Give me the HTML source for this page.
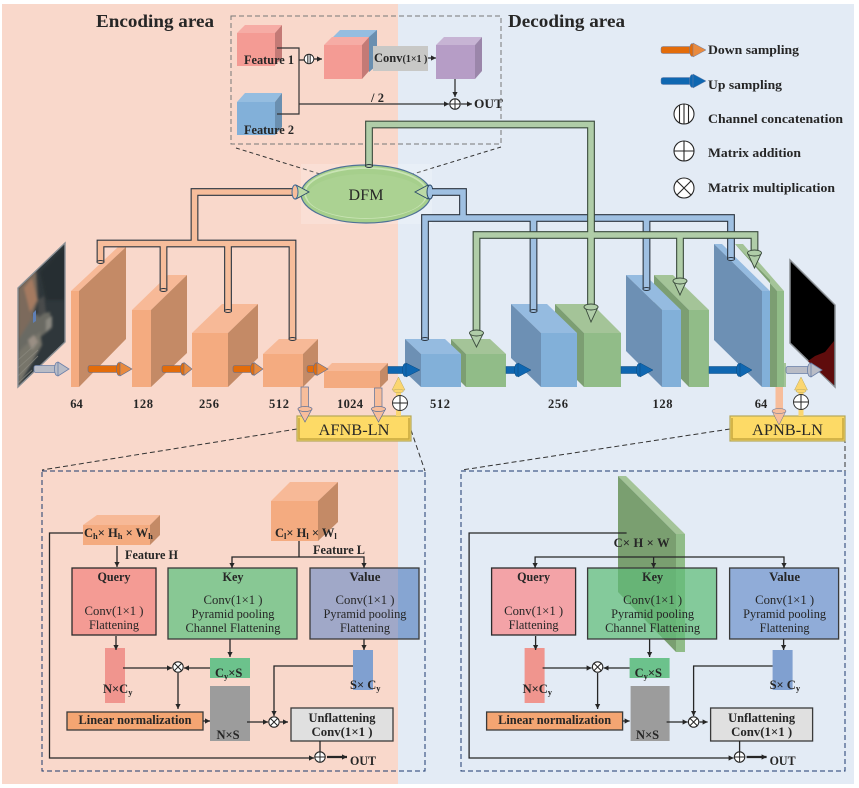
<!DOCTYPE html>
<html><head><meta charset="utf-8"><style>
html,body{margin:0;padding:0;background:#fff}
svg{display:block;filter:blur(.3px)}
text{font-family:"Liberation Serif",serif;fill:#262626}
.b{font-weight:bold;font-size:12.5px}
.r{font-size:13px}
.m{text-anchor:middle}
.sub{font-size:8.5px;font-weight:bold}
</style></head><body>
<svg width="859" height="788" viewBox="0 0 859 788" xmlns="http://www.w3.org/2000/svg">
<defs>
<marker id="a" markerUnits="userSpaceOnUse" markerWidth="6" markerHeight="6" refX="5" refY="3" orient="auto"><path d="M0,0.4L5,3L0,5.6Z" fill="#262626"/></marker>
<g id="plus"><circle r="5.2" fill="#fff" stroke="#262626" stroke-width="1.1"/><path d="M-5,0H5M0,-5V5" stroke="#262626" stroke-width="1"/></g>
<g id="cross"><circle r="5.2" fill="#fff" stroke="#262626" stroke-width="1.1"/><path d="M-3.6,-3.6L3.6,3.6M3.6,-3.6L-3.6,3.6" stroke="#262626" stroke-width="1"/></g>
<clipPath id="sat"><polygon points="18,288 65,243 65,342 18,387"/></clipPath>
<filter id="soft" x="-10%" y="-10%" width="120%" height="120%"><feGaussianBlur stdDeviation="1.2"/></filter>
</defs>

<rect x="2" y="4" width="396" height="780" fill="#f9d8cb"/>
<rect x="398" y="4" width="456" height="780" fill="#e3ebf5"/>

<text x="96" y="27" font-size="18" font-weight="bold" textLength="118" lengthAdjust="spacingAndGlyphs">Encoding area</text>
<text x="508" y="27" font-size="18" font-weight="bold" textLength="117" lengthAdjust="spacingAndGlyphs">Decoding area</text>

<!-- top dashed -->
<rect x="231" y="16" width="270" height="128" fill="none" stroke="#777" stroke-width="1" stroke-dasharray="5 3"/>
<path d="M236,148L320,174M501,147L413,174" fill="none" stroke="#333" stroke-width="1" stroke-dasharray="4 3"/>

<!-- Feature cubes -->
<polygon points="237,33 245,25 282,25 275,33" fill="#f6aca5"/><polygon points="275,33 282,25 282,58 275,65" fill="#c47a76"/><rect x="237" y="33" width="38" height="33" fill="#f49b94"/>
<polygon points="237,102 245,93 282,93 275,102" fill="#95bde0"/><polygon points="275,102 282,93 282,127 275,135" fill="#6a8fb0"/><rect x="237" y="102" width="38" height="33" fill="#82b0d9"/>
<polygon points="333,37 340,30 377,30 377,65 369,72 369,37" fill="#95bde0"/><polygon points="369,37 377,30 377,65 369,72" fill="#6a8fb0"/>
<polygon points="324,45 332,37 369,37 362,45" fill="#f6aca5"/><polygon points="362,45 369,37 369,71 362,79" fill="#c47a76"/><rect x="324" y="45" width="38" height="34" fill="#f49b94"/>
<polygon points="436,45 444,37 482,37 475,45" fill="#c7b4d4"/><polygon points="475,45 482,37 482,71 475,79" fill="#9b86aa"/><rect x="436" y="45" width="39" height="34" fill="#b69dc6"/>
<rect x="373" y="46" width="55" height="25" fill="#c8c8c6"/>
<text class="b" x="244" y="64" textLength="50" lengthAdjust="spacingAndGlyphs">Feature 1</text>
<text class="b" x="244" y="134" textLength="50" lengthAdjust="spacingAndGlyphs">Feature 2</text>
<text class="b" x="374" y="62">Conv<tspan font-size="10">(1×1 )</tspan></text>
<text class="b" x="371" y="102" textLength="13">/ 2</text>
<text class="b" x="474" y="108" font-size="13" textLength="29" lengthAdjust="spacingAndGlyphs">OUT</text>
<path d="M277,48H299V114H277" fill="none" stroke="#333" stroke-width="1.2"/>
<path d="M299,60H304M314,59H322" fill="none" stroke="#262626" stroke-width="1.2" marker-end="url(#a)"/>
<path d="M299,104H449" fill="none" stroke="#333" stroke-width="1.2" marker-end="url(#a)"/>
<path d="M428,58H436" stroke="#262626" stroke-width="1.2" marker-end="url(#a)"/>
<path d="M455,79V97" stroke="#262626" stroke-width="1.2" marker-end="url(#a)"/>
<path d="M461,104H472" stroke="#262626" stroke-width="1.2" marker-end="url(#a)"/>
<g transform="translate(309,59)"><circle r="4.8" fill="#fff" stroke="#262626" stroke-width="1"/><path d="M-1.6,-4.4V4.4M0,-4.8V4.8M1.6,-4.4V4.4" stroke="#262626" stroke-width=".7"/></g>
<use href="#plus" x="455" y="104"/>

<!-- Encoder blocks -->
<g>
<polygon points="71,291 118,247 126,247 79,291" fill="#f7b997"/><polygon points="79,291 126,247 126,339 79,387" fill="#c48a66"/><rect x="71" y="291" width="8" height="96" fill="#f4ab80"/>
<polygon points="132,310 168,275 187,275 151,310" fill="#f7b997"/><polygon points="151,310 187,275 187,353 151,387" fill="#c48a66"/><rect x="132" y="310" width="19" height="77" fill="#f4ab80"/>
<polygon points="192,333 222,304 258,304 228,333" fill="#f7b997"/><polygon points="228,333 258,304 258,358 228,387" fill="#c48a66"/><rect x="192" y="333" width="36" height="54" fill="#f4ab80"/>
<polygon points="263,354 279,339 318,339 303,354" fill="#f7b997"/><polygon points="303,354 318,339 318,372 303,387" fill="#c48a66"/><rect x="263" y="354" width="40" height="33" fill="#f4ab80"/>
<polygon points="324,371 332,363 388,363 380,371" fill="#f7b997"/><polygon points="380,371 388,363 388,380 380,388" fill="#c48a66"/><rect x="324" y="371" width="56" height="17" fill="#f4ab80"/>
</g>

<!-- input image -->
<g clip-path="url(#sat)">
<rect x="16" y="240" width="50" height="150" fill="#2f373b"/>
<g filter="url(#soft)">
<polygon points="18,288 36,270 38,300 30,325 18,340" fill="#7c6a5c"/>
<polygon points="24,288 32,278 37,300 30,312" fill="#a57a60"/>
<polygon points="18,340 34,315 50,312 52,328 30,345 18,370" fill="#6a6a64"/>
<polygon points="18,352 40,332 42,345 18,387" fill="#77756a"/>
<polygon points="38,300 44,296 46,312 38,318" fill="#4a4c4c"/>
<polygon points="28,340 34,335 38,342 32,350" fill="#9a8f84"/>
<polygon points="46,320 52,316 52,326 46,332" fill="#8a8880"/>
<polygon points="40,272 65,245 65,300 46,300" fill="#252e30"/>
</g>
<path d="M18,360L36,344M18,368L38,350M18,376L38,356M18,383L32,370" stroke="#8c8a80" stroke-width="1" opacity=".7"/>
<polygon points="33,313 36,310 36,321 33,323" fill="#5f7fb5"/>
</g>
<polygon points="18,288 65,243 65,342 18,387" fill="none" stroke="#8a8f94" stroke-width="1.4"/>

<!-- output image -->
<polygon points="790,260 835,305 835,387 790,343" fill="#000" stroke="#8a8f94" stroke-width="1.5"/>
<polygon points="808,361 815,356 825,352 834,341 834,385" fill="#5f0c0c"/>

<!-- Decoder blocks: green first, blue on top -->
<polygon points="451,339 490,339 506,354 466,354" fill="#a4c498"/><polygon points="451,339 466,354 466,387 451,372" fill="#7c9e72"/><rect x="466" y="354" width="40" height="33" fill="#91bc88"/>
<polygon points="405,339 445,339 461,354 421,354" fill="#95bbe0"/><polygon points="405,339 421,354 421,387 405,372" fill="#6d90b4"/><rect x="421" y="354" width="40" height="33" fill="#82b0d9"/>
<polygon points="555,304 592,304 621,333 584,333" fill="#a4c498"/><polygon points="555,304 584,333 584,387 555,358" fill="#7c9e72"/><rect x="584" y="333" width="37" height="54" fill="#91bc88"/>
<polygon points="511,304 547,304 577,333 541,333" fill="#95bbe0"/><polygon points="511,304 541,333 541,387 511,358" fill="#6d90b4"/><rect x="541" y="333" width="36" height="54" fill="#82b0d9"/>
<polygon points="654,275 673,275 709,310 689,310" fill="#a4c498"/><polygon points="654,275 689,310 689,387 654,351" fill="#7c9e72"/><rect x="689" y="310" width="20" height="77" fill="#91bc88"/>
<polygon points="626,275 645,275 681,310 662,310" fill="#95bbe0"/><polygon points="626,275 662,310 662,387 626,351" fill="#6d90b4"/><rect x="662" y="310" width="19" height="77" fill="#82b0d9"/>
<polygon points="735,244 743,244 784,291 777,291" fill="#a4c498"/><polygon points="735,244 777,291 777,387 770,387 770,280" fill="#7c9e72"/><rect x="777" y="291" width="7" height="96" fill="#91bc88"/>
<polygon points="714,244 722,244 770,291 762,291" fill="#95bbe0"/><polygon points="714,244 762,291 762,387 714,340" fill="#6d90b4"/><rect x="762" y="291" width="8" height="96" fill="#82b0d9"/>
<rect x="784" y="363" width="2" height="24" fill="#a4c498"/>

<!-- Labels -->
<g>
<text class="b m" x="76.5" y="408" font-size="13">64</text>
<text class="b m" x="143" y="408" font-size="13" textLength="20">128</text>
<text class="b m" x="209" y="408" font-size="13" textLength="20">256</text>
<text class="b m" x="279" y="408" font-size="13" textLength="20">512</text>
<text class="b m" x="350" y="408" font-size="13" textLength="26">1024</text>
<text class="b m" x="440" y="408" font-size="13" textLength="20">512</text>
<text class="b m" x="558" y="408" font-size="13" textLength="20">256</text>
<text class="b m" x="662.5" y="408" font-size="13" textLength="20">128</text>
<text class="b m" x="761" y="408" font-size="13">64</text>
</g>

<!-- Block arrows horizontal -->
<g stroke="#5a6f98" stroke-width=".6" fill="#e36c0a">
<rect x="88" y="365.5" width="32" height="7" rx="2"/><ellipse cx="119" cy="369" rx="2.5" ry="6.5"/><polygon points="120,362 132,369 120,376" fill="#e98a3e"/>
<rect x="162" y="365.5" width="22" height="7" rx="2"/><ellipse cx="183" cy="369" rx="2.5" ry="6"/><polygon points="184,362.5 192,369 184,375.5" fill="#e98a3e"/>
<rect x="233" y="365.5" width="21" height="7" rx="2"/><ellipse cx="253" cy="369" rx="2.5" ry="6"/><polygon points="254,362.5 263,369 254,375.5" fill="#e98a3e"/>
<rect x="307" y="365.5" width="10" height="7" rx="2"/><ellipse cx="316" cy="369" rx="2.5" ry="6"/><polygon points="317,362.5 328,369 317,375.5" fill="#e98a3e"/>
</g>
<g fill="#0f67b1" stroke="#0a4a80" stroke-width=".5">
<rect x="388" y="366.5" width="17" height="7"/><ellipse cx="405" cy="370" rx="2.5" ry="6.5"/><polygon points="406,363 420,370 406,377"/>
<rect x="506" y="366.5" width="12" height="7"/><ellipse cx="517" cy="370" rx="2.5" ry="6.5"/><polygon points="518,363 531,370 518,377"/>
<rect x="621" y="366.5" width="18" height="7"/><ellipse cx="639" cy="370" rx="2.5" ry="6.5"/><polygon points="640,363 653,370 640,377"/>
<rect x="709" y="366.5" width="30" height="7"/><ellipse cx="739" cy="370" rx="2.5" ry="6.5"/><polygon points="740,363 752,370 740,377"/>
</g>
<g fill="#b9bcc6" stroke="#6a7fa8" stroke-width=".8">
<rect x="34" y="365.5" width="24" height="7" rx="2"/><ellipse cx="57" cy="369" rx="2.5" ry="6.5"/><polygon points="58,362 69,369 58,376"/>
<rect x="786" y="366.5" width="25" height="7" rx="2"/><ellipse cx="810" cy="370" rx="2.5" ry="6.5"/><polygon points="811,363 822,370 811,377"/>
</g>

<!-- Pipes orange -->
<path d="M296,192H194.5V243.5M100.5,262V243.5H292.5V339M163.5,243.5V290M228,243.5V311" fill="none" stroke="#2b3540" stroke-width="7.8"/>
<path d="M296,192H194.5V243.5M100.5,262V243.5H292.5V339M163.5,243.5V290M228,243.5V311" fill="none" stroke="#f7bd9b" stroke-width="5.6"/>
<g fill="#f7bd9b" stroke="#2b3540" stroke-width=".9"><ellipse cx="100.5" cy="262" rx="3.6" ry="1.5"/><ellipse cx="163.5" cy="290" rx="3.6" ry="1.5"/><ellipse cx="228" cy="311" rx="3.6" ry="1.5"/><ellipse cx="292.5" cy="339" rx="3.6" ry="1.5"/></g>

<!-- DFM -->
<rect x="301" y="164" width="131" height="60" fill="#fff" opacity=".2"/>
<ellipse cx="366" cy="194" rx="65" ry="29" fill="#a6cf8c" stroke="#4f7296" stroke-width="1.2"/>
<ellipse cx="366" cy="193" rx="61" ry="25" fill="none" stroke="#c9e4b4" stroke-width="1.8"/>
<ellipse cx="366" cy="196" rx="59" ry="22" fill="#abd292"/>
<text x="366" y="200" font-size="16" text-anchor="middle" textLength="35">DFM</text>
<polygon points="296,185 309,192 296,199" fill="#bcd9a6" stroke="#2b4a6a" stroke-width=".9"/>
<ellipse cx="295" cy="192" rx="3" ry="7" fill="#f7bd9b" stroke="#3c6a9a" stroke-width="1"/>
<polygon points="428,185 415,192 428,199" fill="#bcd9a6" stroke="#2b4a6a" stroke-width=".9"/>
<ellipse cx="430" cy="192" rx="3" ry="7" fill="#9fc0e2" stroke="#2b4a6a" stroke-width="1"/>

<!-- Pipes blue -->
<path d="M432,192H463V218M425,339V218H731V259M533.5,218V311M646.5,218V289" fill="none" stroke="#2b3540" stroke-width="7.8"/>
<path d="M432,192H463V218M425,339V218H731V259M533.5,218V311M646.5,218V289" fill="none" stroke="#9fc0e2" stroke-width="5.6"/>
<g fill="#9fc0e2" stroke="#2b3540" stroke-width=".9"><ellipse cx="425" cy="339" rx="3.6" ry="1.5"/><ellipse cx="533.5" cy="311" rx="3.6" ry="1.5"/><ellipse cx="646.5" cy="289" rx="3.6" ry="1.5"/><ellipse cx="731" cy="259" rx="3.6" ry="1.5"/></g>

<!-- Pipes green -->
<path d="M369,166V124.5H591V306M476.5,334V235H754.5V253M680,235V280" fill="none" stroke="#3a4a3c" stroke-width="7.8"/>
<path d="M369,166V124.5H591V306M476.5,334V235H754.5V253M680,235V280" fill="none" stroke="#b0cda8" stroke-width="5.6"/>
<ellipse cx="369" cy="166" rx="3.5" ry="1.5" fill="#b0cda8" stroke="#2b3540" stroke-width=".9"/>
<g fill="#b0cda8" stroke="#3a4a3c" stroke-width=".9">
<polygon points="470,334 483,334 476.5,347"/><ellipse cx="476.5" cy="333" rx="7" ry="3"/>
<polygon points="585,307 598,307 591,322"/><ellipse cx="591" cy="307" rx="7" ry="3"/>
<polygon points="673.500,281 686.500,281 680,295"/><ellipse cx="680" cy="281" rx="7" ry="3"/>
<polygon points="748,254 761,254 754.500,268"/><ellipse cx="754.500" cy="253" rx="7" ry="3"/>
</g>

<!-- AFNB / APNB -->
<path d="M297,429L42,470M411,430L425,471M730,429L462,470M845,430V471" fill="none" stroke="#333" stroke-width="1" stroke-dasharray="5 3"/>
<rect x="297" y="416" width="114" height="25" fill="#fdda66" stroke="#b5a85a" stroke-width="1.2"/>
<path d="M299,418V439H409V418" fill="none" stroke="#c7a83e" stroke-width="1.5"/>
<rect x="730" y="416" width="115" height="25" fill="#fdda66" stroke="#b5a85a" stroke-width="1.2"/>
<path d="M732,418V439H843V418" fill="none" stroke="#c7a83e" stroke-width="1.5"/>
<rect x="396" y="388" width="5" height="28" fill="#fbd670"/>
<polygon points="392,390 398.500,377 405,390" fill="#fbd670" stroke="#b8a860" stroke-width=".5"/><ellipse cx="398.500" cy="391" rx="5" ry="1.800" fill="#fbd670" stroke="#b8a860" stroke-width=".5"/>
<rect x="798.500" y="388" width="5" height="28" fill="#fbd670"/>
<polygon points="794.500,390 801,377 807.500,390" fill="#fbd670" stroke="#b8a860" stroke-width=".5"/><ellipse cx="801" cy="391" rx="5" ry="1.800" fill="#fbd670" stroke="#b8a860" stroke-width=".5"/>
<g fill="#f7bd9b" stroke="#5a6f98" stroke-width=".7">
<rect x="301" y="387" width="7.500" height="22"/><polygon points="298,409 312,409 305,422"/><ellipse cx="305" cy="409" rx="7" ry="2.500"/>
<rect x="374.500" y="388" width="7.500" height="21"/><polygon points="371.500,409 385.500,409 378.500,422"/><ellipse cx="378.500" cy="409" rx="7" ry="2.500"/>
</g>
<g fill="#f7bd9b" stroke="#5a6f98" stroke-width=".5">
<rect x="775.500" y="387" width="7.500" height="24" stroke="none"/><polygon points="772,411 786,411 779,425"/><ellipse cx="779" cy="411" rx="7" ry="2.500"/>
</g>
<text x="354" y="435" font-size="15.500" text-anchor="middle" textLength="71" lengthAdjust="spacingAndGlyphs">AFNB-LN</text>
<text x="787.500" y="435" font-size="15.500" text-anchor="middle" textLength="71" lengthAdjust="spacingAndGlyphs">APNB-LN</text>
<g transform="translate(400,403)"><circle r="7.500" fill="#fff" stroke="#333" stroke-width="1"/><path d="M-7,0H7M0,-7V7" stroke="#222" stroke-width="1"/></g>
<g transform="translate(801,402)"><circle r="7.500" fill="#fff" stroke="#333" stroke-width="1"/><path d="M-7,0H7M0,-7V7" stroke="#222" stroke-width="1"/></g>

<!-- Legend -->
<g stroke="#6a7fa8" stroke-width=".5"><rect x="661" y="46.500" width="32" height="7" rx="2" fill="#e36c0a"/><ellipse cx="692" cy="50" rx="2.500" ry="6.500" fill="#e36c0a"/><polygon points="693,43 706,50 693,57" fill="#e98a3e"/>
<rect x="661" y="77.500" width="32" height="7" rx="2" fill="#0f67b1"/><ellipse cx="692" cy="81" rx="2.500" ry="6.500" fill="#0f67b1"/><polygon points="693,74 706,81 693,88" fill="#0f67b1"/></g>
<text class="b" x="708" y="54" textLength="91" lengthAdjust="spacingAndGlyphs">Down sampling</text>
<text class="b" x="708" y="89" textLength="74" lengthAdjust="spacingAndGlyphs">Up sampling</text>
<text class="b" x="708" y="123" textLength="135" lengthAdjust="spacingAndGlyphs">Channel concatenation</text>
<text class="b" x="708" y="157" textLength="93" lengthAdjust="spacingAndGlyphs">Matrix addition</text>
<text class="b" x="708" y="192" textLength="127" lengthAdjust="spacingAndGlyphs">Matrix multiplication</text>
<g fill="none" stroke="#262626" stroke-width="1.100">
<circle cx="684" cy="114" r="10" fill="#fff"/><path d="M679.500,105.500V122.500M684,104V124M688.500,105.500V122.500"/>
<circle cx="684" cy="151" r="10" fill="#fff"/><path d="M674,151H694M684,141V161"/>
<circle cx="684" cy="188" r="10" fill="#fff"/><path d="M677,181L691,195M691,181L677,195"/>
</g>

<!-- Left panel -->
<rect x="42" y="471" width="383" height="300" fill="none" stroke="#1c3a6e" stroke-width="1" stroke-dasharray="5 3"/>
<polygon points="83,525 97,515 160,515 150,525" fill="#f7b997"/><polygon points="150,525 160,515 160,535 150,545" fill="#c48a66"/><rect x="83" y="525" width="67" height="20" fill="#f4ab80"/>
<polygon points="271,501 290,482 338,482 318,501" fill="#f7b997"/><polygon points="318,501 338,482 338,522 318,541" fill="#c48a66"/><rect x="271" y="501" width="47" height="40" fill="#f4ab80"/>
<rect x="72" y="568" width="84" height="67" fill="#f49b94" stroke="#2b2b2b" stroke-width="1.300"/>
<rect x="168" y="568" width="129" height="71" fill="#88c894" stroke="#3a3a3a" stroke-width="1.300"/>
<rect x="310" y="568" width="109" height="71" fill="#a0a8c8"/><rect x="398" y="568" width="21" height="71" fill="#86a5d2"/><rect x="310" y="568" width="109" height="71" fill="none" stroke="#3a3a3a" stroke-width="1.300"/>
<rect x="105" y="648" width="20" height="55" fill="#f0958e"/>
<rect x="210" y="658" width="40" height="20" fill="#6cc28c"/>
<rect x="353" y="650" width="20" height="40" fill="#80a0d0"/>
<rect x="210" y="686" width="40" height="55" fill="#9c9c9c"/>
<rect x="67" y="712" width="136" height="18" fill="#f4a572" stroke="#3a3a3a" stroke-width="1.300"/>
<rect x="291" y="708" width="102" height="33" fill="#e0e0e0" stroke="#3a3a3a" stroke-width="1.300"/>
<g fill="none" stroke="#262626" stroke-width="1.300">
<path d="M83,533H49.500V758H314" marker-end="url(#a)"/>
<path d="M117,546V567" marker-end="url(#a)"/>
<path d="M299,541V557"/><path d="M299,557H232V568" marker-end="url(#a)"/><path d="M299,557H364V568" marker-end="url(#a)"/>
<path d="M116,636V650" marker-end="url(#a)"/><path d="M230,639V657" marker-end="url(#a)"/><path d="M364,639V650" marker-end="url(#a)"/>
<path d="M123,668H172" marker-end="url(#a)"/><path d="M210,668H184" marker-end="url(#a)"/>
<path d="M178,673V709" marker-end="url(#a)"/>
<path d="M203,721H210" marker-end="url(#a)"/><path d="M247,722H268" marker-end="url(#a)"/>
<path d="M353,666H274V716" marker-end="url(#a)"/><path d="M280,722H288" marker-end="url(#a)"/>
<path d="M320,741V752"/>
</g>
<path d="M327,757H347" stroke="#262626" stroke-width="2.200" marker-end="url(#a)"/>
<use href="#cross" x="178" y="667"/><use href="#cross" x="274" y="722"/><use href="#plus" x="320" y="757"/>
<text class="b" x="84" y="537">C<tspan class="sub" dy="2">h</tspan><tspan dy="-2">× H</tspan><tspan class="sub" dy="2">h</tspan><tspan dy="-2"> × W</tspan><tspan class="sub" dy="2">h</tspan></text>
<text class="b" x="275" y="537">C<tspan class="sub" dy="2">l</tspan><tspan dy="-2">× H</tspan><tspan class="sub" dy="2">l</tspan><tspan dy="-2"> × W</tspan><tspan class="sub" dy="2">l</tspan></text>
<text class="b" x="125" y="559" textLength="53" lengthAdjust="spacingAndGlyphs">Feature H</text>
<text class="b" x="313" y="554" textLength="52" lengthAdjust="spacingAndGlyphs">Feature L</text>
<text class="b m" x="114" y="581" textLength="33" lengthAdjust="spacingAndGlyphs">Query</text>
<text class="r m" x="114" y="615" textLength="59" lengthAdjust="spacingAndGlyphs">Conv(1×1 )</text>
<text class="r m" x="114" y="629" textLength="50" lengthAdjust="spacingAndGlyphs">Flattening</text>
<text class="b m" x="233" y="581" textLength="21" lengthAdjust="spacingAndGlyphs">Key</text>
<text class="r m" x="233" y="604" textLength="59" lengthAdjust="spacingAndGlyphs">Conv(1×1 )</text>
<text class="r m" x="233" y="618" textLength="83" lengthAdjust="spacingAndGlyphs">Pyramid pooling</text>
<text class="r m" x="233" y="632" textLength="95" lengthAdjust="spacingAndGlyphs">Channel Flattening</text>
<text class="b m" x="365" y="581" textLength="31" lengthAdjust="spacingAndGlyphs">Value</text>
<text class="r m" x="365" y="604" textLength="59" lengthAdjust="spacingAndGlyphs">Conv(1×1 )</text>
<text class="r m" x="365" y="618" textLength="83" lengthAdjust="spacingAndGlyphs">Pyramid pooling</text>
<text class="r m" x="365" y="632" textLength="50" lengthAdjust="spacingAndGlyphs">Flattening</text>
<text class="b" x="103" y="693">N×C<tspan class="sub" dy="2">y</tspan></text>
<text class="b" x="215" y="677">C<tspan class="sub" dy="2">y</tspan><tspan dy="-2">×S</tspan></text>
<text class="b" x="350" y="689">S× C<tspan class="sub" dy="2">y</tspan></text>
<text class="b m" x="228" y="739">N×S</text>
<text class="b m" x="135" y="724" textLength="113" lengthAdjust="spacingAndGlyphs">Linear normalization</text>
<text class="b m" x="342" y="722" textLength="67" lengthAdjust="spacingAndGlyphs">Unflattening</text>
<text class="b m" x="342" y="736" textLength="61" lengthAdjust="spacingAndGlyphs">Conv(1×1 )</text>
<text class="b" x="350" y="765" font-size="13" textLength="26" lengthAdjust="spacingAndGlyphs">OUT</text>

<!-- Right panel -->
<rect x="461" y="471" width="384" height="300" fill="none" stroke="#1c3a6e" stroke-width="1" stroke-dasharray="5 3"/>
<polygon points="618,476 626,476 685,534 676,534" fill="#a4c498"/>
<polygon points="618,476 676,534 676,652 618,592" fill="#7a9f70"/>
<rect x="676" y="534" width="9" height="118" fill="#90bc88"/>
<g transform="translate(419.600,0)">
<rect x="72" y="568" width="84" height="67" fill="#f49b9e" fill-opacity=".9" stroke="#2b2b2b" stroke-width="1.300"/>
<rect x="168" y="568" width="129" height="71" fill="#5fbc79" fill-opacity=".72" stroke="#3a3a3a" stroke-width="1.300"/>
<rect x="310" y="568" width="109" height="71" fill="#90acd8" stroke="#3a3a3a" stroke-width="1.300"/>
<rect x="105" y="648" width="20" height="55" fill="#f0958e"/>
<rect x="210" y="658" width="40" height="20" fill="#6cc28c"/>
<rect x="353" y="650" width="20" height="40" fill="#80a0d0"/>
<rect x="211" y="686" width="39" height="55" fill="#9c9c9c"/>
<rect x="67" y="712" width="136" height="18" fill="#f4a572" stroke="#3a3a3a" stroke-width="1.300"/>
<rect x="291" y="708" width="102" height="33" fill="#e0e0e0" stroke="#3a3a3a" stroke-width="1.300"/>
<g fill="none" stroke="#262626" stroke-width="1.300">
<path d="M207,533H49.500V758H314" marker-end="url(#a)"/>
<path d="M234,557H364.400V568" marker-end="url(#a)"/><path d="M234,557V568" marker-end="url(#a)"/><path d="M234,557H115.500V568" marker-end="url(#a)"/>
<path d="M116,636V650" marker-end="url(#a)"/><path d="M230,639V657" marker-end="url(#a)"/><path d="M364,639V650" marker-end="url(#a)"/>
<path d="M123,668H172" marker-end="url(#a)"/><path d="M210,668H184" marker-end="url(#a)"/>
<path d="M178,673V709" marker-end="url(#a)"/>
<path d="M203,721H210" marker-end="url(#a)"/><path d="M247,722H268" marker-end="url(#a)"/>
<path d="M353,666H274V716" marker-end="url(#a)"/><path d="M280,722H288" marker-end="url(#a)"/>
<path d="M320,741V752"/>
</g>
<path d="M327,757H347" stroke="#262626" stroke-width="2.200" marker-end="url(#a)"/>
<use href="#cross" x="178" y="667"/><use href="#cross" x="274" y="722"/><use href="#plus" x="320" y="757"/>
<text class="b" x="194" y="547" textLength="56">C× H × W</text>
<text class="b m" x="114" y="581" textLength="33" lengthAdjust="spacingAndGlyphs">Query</text>
<text class="r m" x="114" y="615" textLength="59" lengthAdjust="spacingAndGlyphs">Conv(1×1 )</text>
<text class="r m" x="114" y="629" textLength="50" lengthAdjust="spacingAndGlyphs">Flattening</text>
<text class="b m" x="233" y="581" textLength="21" lengthAdjust="spacingAndGlyphs">Key</text>
<text class="r m" x="233" y="604" textLength="59" lengthAdjust="spacingAndGlyphs">Conv(1×1 )</text>
<text class="r m" x="233" y="618" textLength="83" lengthAdjust="spacingAndGlyphs">Pyramid pooling</text>
<text class="r m" x="233" y="632" textLength="95" lengthAdjust="spacingAndGlyphs">Channel Flattening</text>
<text class="b m" x="365" y="581" textLength="31" lengthAdjust="spacingAndGlyphs">Value</text>
<text class="r m" x="365" y="604" textLength="59" lengthAdjust="spacingAndGlyphs">Conv(1×1 )</text>
<text class="r m" x="365" y="618" textLength="83" lengthAdjust="spacingAndGlyphs">Pyramid pooling</text>
<text class="r m" x="365" y="632" textLength="50" lengthAdjust="spacingAndGlyphs">Flattening</text>
<text class="b" x="103" y="693">N×C<tspan class="sub" dy="2">y</tspan></text>
<text class="b" x="215" y="677">C<tspan class="sub" dy="2">y</tspan><tspan dy="-2">×S</tspan></text>
<text class="b" x="350" y="689">S× C<tspan class="sub" dy="2">y</tspan></text>
<text class="b m" x="228" y="739">N×S</text>
<text class="b m" x="135" y="724" textLength="113" lengthAdjust="spacingAndGlyphs">Linear normalization</text>
<text class="b m" x="342" y="722" textLength="67" lengthAdjust="spacingAndGlyphs">Unflattening</text>
<text class="b m" x="342" y="736" textLength="61" lengthAdjust="spacingAndGlyphs">Conv(1×1 )</text>
<text class="b" x="350" y="765" font-size="13" textLength="26" lengthAdjust="spacingAndGlyphs">OUT</text>
</g>
</svg>
</body></html>
